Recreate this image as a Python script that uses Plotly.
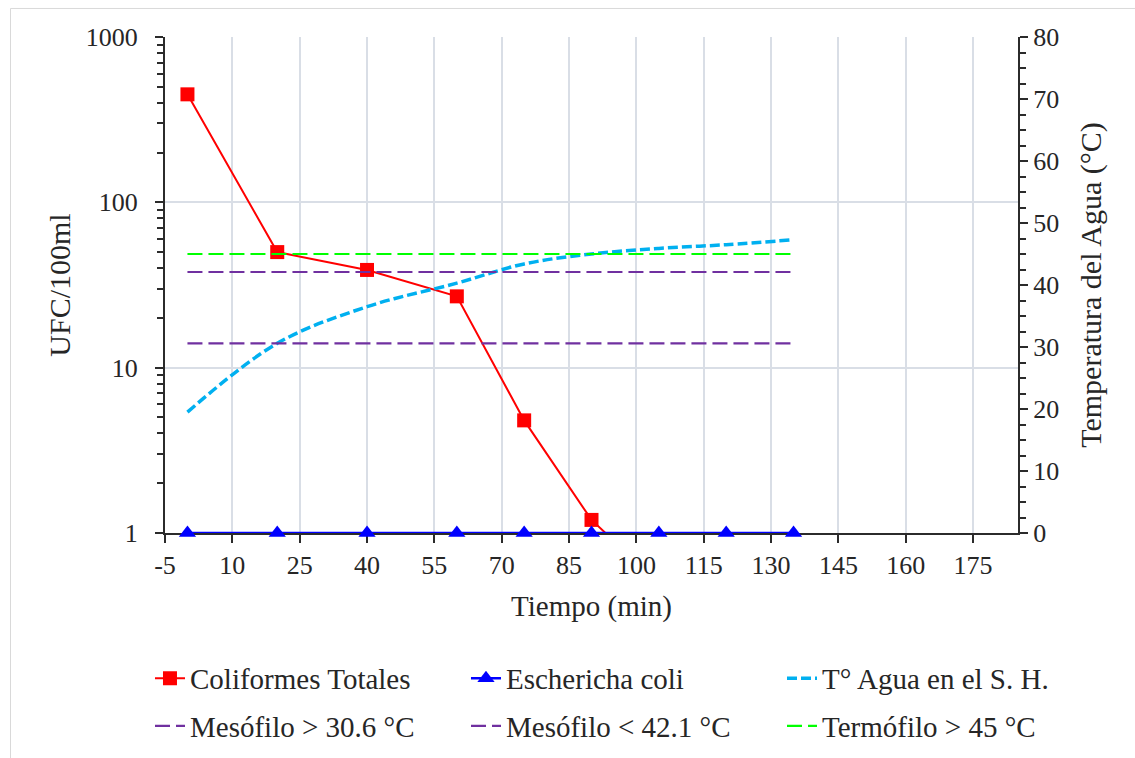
import plotly.graph_objects as go

# ---- data ----
time_min = [0, 20, 40, 60, 75, 90, 105, 120, 135]
coliformes_time = [0, 20, 40, 60, 75, 90, 105]
coliformes_totales = [450, 50, 39, 27, 4.8, 1.2, 0.5]
escherichia_coli = [1, 1, 1, 1, 1, 1, 1, 1, 1]
temp_agua = [19.5, 30.6, 36.5, 40.3, 43.4, 45.0, 45.9, 46.5, 47.3]
mesofilo_min = [30.6, 30.6, 30.6, 30.6, 30.6, 30.6, 30.6, 30.6, 30.6]
mesofilo_max = [42.1, 42.1, 42.1, 42.1, 42.1, 42.1, 42.1, 42.1, 42.1]
termofilo = [45, 45, 45, 45, 45, 45, 45, 45, 45]

x_tick_vals = [-5, 10, 25, 40, 55, 70, 85, 100, 115, 130, 145, 160, 175]
x_tick_text = ["-5", "10", "25", "40", "55", "70", "85", "100", "115", "130", "145", "160", "175"]

FONT = "Times New Roman, Liberation Serif, serif"
TXT = "#262626"
GRID = "#D9DEE6"
AX = "#2B2B2B"

fig = go.Figure()

fig.add_trace(go.Scatter(
    x=coliformes_time, y=coliformes_totales, name="Coliformes Totales",
    mode="lines+markers", line=dict(color="#FF0000", width=2),
    marker=dict(symbol="square", size=14, color="#FF0000"),
    yaxis="y", legend="legend"))
fig.add_trace(go.Scatter(
    x=time_min, y=escherichia_coli, name="Eschericha coli",
    mode="lines+markers", line=dict(color="#0000FF", width=2.5),
    marker=dict(symbol="triangle-up", size=15, color="#0000FF"),
    cliponaxis=False, yaxis="y", legend="legend"))
fig.add_trace(go.Scatter(
    x=time_min, y=temp_agua, name="T° Agua en el S. H.",
    mode="lines", line=dict(color="#00B0F0", width=3.5, dash="10px,4px", shape="spline"),
    yaxis="y2", legend="legend"))
fig.add_trace(go.Scatter(
    x=time_min, y=mesofilo_min, name="Mesófilo > 30.6 °C",
    mode="lines", line=dict(color="#7030A0", width=2.2, dash="15px,6px"),
    yaxis="y2", legend="legend2"))
fig.add_trace(go.Scatter(
    x=time_min, y=mesofilo_max, name="Mesófilo < 42.1 °C",
    mode="lines", line=dict(color="#7030A0", width=2.2, dash="15px,6px"),
    yaxis="y2", legend="legend2"))
fig.add_trace(go.Scatter(
    x=time_min, y=termofilo, name="Termófilo > 45 °C",
    mode="lines", line=dict(color="#00FF00", width=2.2, dash="15px,6px"),
    yaxis="y2", legend="legend2"))

tickfont = dict(family=FONT, size=26, color=TXT)
titlefont = dict(family=FONT, size=29, color=TXT)
legfont = dict(family=FONT, size=29, color=TXT)

fig.update_layout(
    width=1135, height=758,
    margin=dict(l=165, r=117, t=37, b=225, autoexpand=False),
    paper_bgcolor="white", plot_bgcolor="white",
    font=dict(family=FONT, color=TXT),
    xaxis=dict(
        range=[-5, 185], tickmode="array", tickvals=x_tick_vals, ticktext=x_tick_text,
        showgrid=True, gridcolor=GRID, gridwidth=1.5,
        zeroline=False, showline=True, linecolor=AX, linewidth=2,
        ticks="outside", ticklen=8, tickwidth=2, tickcolor=AX,
        tickfont=tickfont, ticklabelstandoff=0, layer="below traces",
        title=dict(text="Tiempo (min)", font=titlefont, standoff=16),
        automargin=False),
    yaxis=dict(
        type="log", range=[0, 3], dtick=1, showgrid=True, gridcolor=GRID, gridwidth=1.5,
        zeroline=False, showline=True, linecolor=AX, linewidth=2,
        ticks="outside", ticklen=8, tickwidth=2, tickcolor=AX,
        minor=dict(dtick="D1", ticks="outside", ticklen=6, tickwidth=1.5, tickcolor=AX, showgrid=False),
        tickfont=tickfont, ticklabelstandoff=12, layer="below traces",
        title=dict(text="UFC/100ml", font=dict(family=FONT, size=30, color=TXT), standoff=6),
        automargin=False),
    yaxis2=dict(
        overlaying="y", side="right", range=[0, 80], dtick=10, showgrid=False,
        zeroline=False, showline=True, linecolor=AX, linewidth=2,
        ticks="outside", ticklen=8, tickwidth=2, tickcolor=AX,
        minor=dict(dtick=2.5, ticks="outside", ticklen=6, tickwidth=1.5, tickcolor=AX, showgrid=False),
        tickfont=tickfont, ticklabelstandoff=0,
        title=dict(text="Temperatura del Agua (°C)", font=dict(family=FONT, size=30, color=TXT), standoff=22),
        automargin=False),
    legend=dict(orientation="h", x=-0.0176, xanchor="left", y=-0.293, yanchor="middle",
                entrywidth=271, entrywidthmode="pixels", font=legfont,
                bgcolor="rgba(0,0,0,0)", traceorder="normal"),
    legend2=dict(orientation="h", x=-0.0176, xanchor="left", y=-0.389, yanchor="middle",
                 entrywidth=271, entrywidthmode="pixels", font=legfont,
                 bgcolor="rgba(0,0,0,0)", traceorder="normal"),
    showlegend=True,
    shapes=[dict(type="rect", xref="paper", yref="paper",
                 x0=-0.1811, x1=1.2, y0=-0.6, y1=1.0575,
                 line=dict(color="#D9D9D9", width=1), fillcolor="rgba(0,0,0,0)", layer="below")],
)

fig.write_html("out.html")
